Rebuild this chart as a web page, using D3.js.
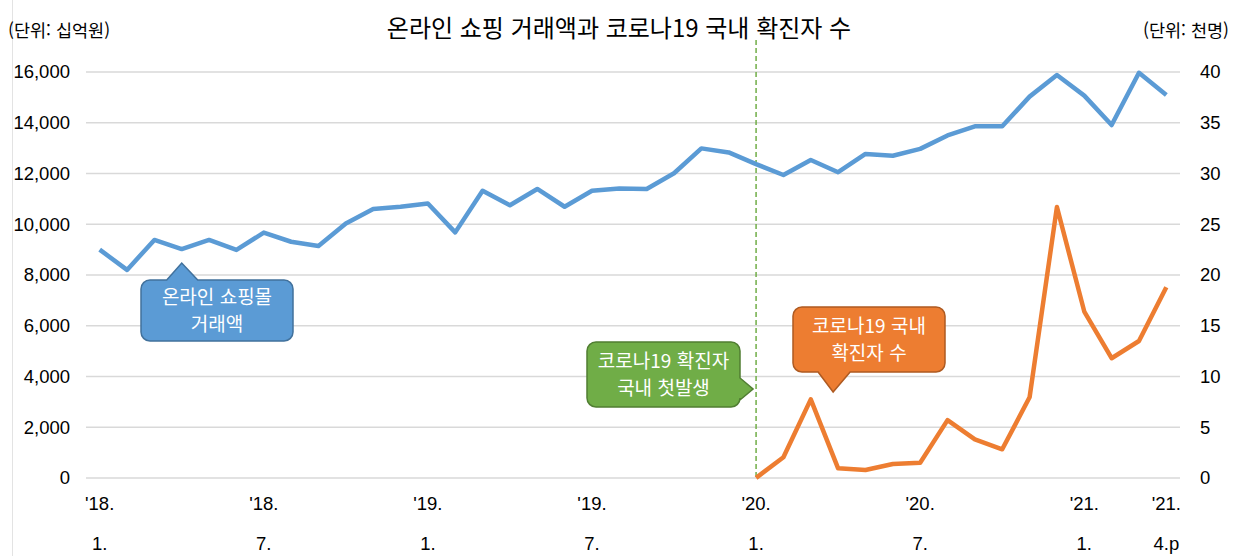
<!DOCTYPE html>
<html lang="ko">
<head>
<meta charset="utf-8">
<title>온라인 쇼핑 거래액과 코로나19 국내 확진자 수</title>
<script src="https://cdn.jsdelivr.net/npm/d3@7"></script>
<style>
  body { margin: 0; background: #fff; }
  svg { display: block; }
  .kr { font-family: "Noto Sans CJK KR", sans-serif; }
  .num { font-family: "Liberation Sans Narrow", "Liberation Sans", sans-serif; }
</style>
</head>
<body>
<script>
// monthly categories, 2018.1 ~ 2021.4
var months = [
  "2018.01","2018.02","2018.03","2018.04","2018.05","2018.06","2018.07","2018.08","2018.09","2018.10","2018.11","2018.12",
  "2019.01","2019.02","2019.03","2019.04","2019.05","2019.06","2019.07","2019.08","2019.09","2019.10","2019.11","2019.12",
  "2020.01","2020.02","2020.03","2020.04","2020.05","2020.06","2020.07","2020.08","2020.09","2020.10","2020.11","2020.12",
  "2021.01","2021.02","2021.03","2021.04"
];

// online shopping amount (십억원)
var shopping = [
  9000, 8200, 9380, 9020, 9380, 8990, 9670, 9310, 9140, 10030, 10600, 10690,
  10820, 9680, 11320, 10750, 11390, 10690, 11320, 11410, 11390, 12010, 12990, 12830,
  12370, 11940, 12530, 12050, 12770, 12700, 12970, 13500, 13860, 13860, 15030, 15880,
  15070, 13910, 15970, 15090
];

// covid-19 confirmed cases (천명), from 2020.1
var covid = [
  null, null, null, null, null, null, null, null, null, null, null, null,
  null, null, null, null, null, null, null, null, null, null, null, null,
  0.01, 2.04, 7.75, 0.95, 0.79, 1.38, 1.51, 5.7, 3.8, 2.83, 7.95, 26.7,
  16.4, 11.8, 13.5, 18.8
];

var leftTicks = [0, 2000, 4000, 6000, 8000, 10000, 12000, 14000, 16000];
var rightTicks = [0, 5, 10, 15, 20, 25, 30, 35, 40];
var xTickMonths = ["2018.01","2018.07","2019.01","2019.07","2020.01","2020.07","2021.01","2021.04"];
var xTickTop = ["'18.","'18.","'19.","'19.","'20.","'20.","'21.","'21."];
var xTickBottom = ["1.","7.","1.","7.","1.","7.","1.","4.p"];

var w = 1243, h = 556;
var plotLeft = 86, plotRight = 1180, plotTop = 72, plotBottom = 478;

var svg = d3.select("body").append("svg")
  .attr("width", w)
  .attr("height", h);

var x = d3.scalePoint()
  .domain(months)
  .range([plotLeft, plotRight])
  .padding(0.5);

var yL = d3.scaleLinear().domain([0, 16000]).range([plotBottom, plotTop]);
var yR = d3.scaleLinear().domain([0, 40]).range([plotBottom, plotTop]);

// faint frame line at left edge
svg.append("line")
  .attr("x1", 12.5).attr("x2", 12.5)
  .attr("y1", 0).attr("y2", h)
  .attr("stroke", "#e3e3e3").attr("stroke-width", 1);

// gridlines
svg.append("g")
  .selectAll("line")
  .data(leftTicks)
  .enter()
  .append("line")
  .attr("x1", plotLeft).attr("x2", plotRight)
  .attr("y1", function(d) { return yL(d); })
  .attr("y2", function(d) { return yL(d); })
  .attr("stroke", "#d9d9d9")
  .attr("stroke-width", 1.6);

// left axis labels
var axL = svg.append("g")
  .attr("transform", "translate(" + (plotLeft - 16) + ",0)")
  .call(d3.axisLeft(yL).tickValues(leftTicks).tickSize(0).tickPadding(0).tickFormat(d3.format(",")));
axL.select(".domain").remove();
axL.selectAll("text")
  .attr("class", "num")
  .attr("font-size", 18.5)
  .attr("fill", "#000");

// right axis labels
var axR = svg.append("g")
  .attr("transform", "translate(" + (plotRight + 20) + ",0)")
  .call(d3.axisRight(yR).tickValues(rightTicks).tickSize(0).tickPadding(0));
axR.select(".domain").remove();
axR.selectAll("text")
  .attr("class", "num")
  .attr("font-size", 18.5)
  .attr("fill", "#000");

// x labels (two lines)
var xl = svg.append("g")
  .selectAll("g")
  .data(xTickMonths)
  .enter()
  .append("g")
  .attr("transform", function(d) { return "translate(" + x(d) + ",0)"; });
xl.append("text")
  .attr("class", "num")
  .attr("y", 510)
  .attr("text-anchor", "middle")
  .attr("font-size", 18.5)
  .text(function(d, i) { return xTickTop[i]; });
xl.append("text")
  .attr("class", "num")
  .attr("y", 550)
  .attr("text-anchor", "middle")
  .attr("font-size", 18.5)
  .text(function(d, i) { return xTickBottom[i]; });

// first domestic case marker
svg.append("line")
  .attr("x1", x("2020.01")).attr("x2", x("2020.01"))
  .attr("y1", 40).attr("y2", plotBottom)
  .attr("stroke", "#70ad47")
  .attr("stroke-width", 1.5)
  .attr("stroke-dasharray", "5,3");

// lines
var lineL = d3.line()
  .x(function(d, i) { return x(months[i]); })
  .y(function(d) { return yL(d); });

var lineR = d3.line()
  .defined(function(d) { return d != null; })
  .x(function(d, i) { return x(months[i]); })
  .y(function(d) { return yR(d); });

svg.append("path")
  .datum(shopping)
  .attr("d", lineL)
  .attr("fill", "none")
  .attr("stroke", "#5b9bd5")
  .attr("stroke-width", 4.5)
  .attr("stroke-linejoin", "round");

svg.append("path")
  .datum(covid)
  .attr("d", lineR)
  .attr("fill", "none")
  .attr("stroke", "#ed7d31")
  .attr("stroke-width", 4.5)
  .attr("stroke-linejoin", "round");

// titles
svg.append("text")
  .attr("class", "kr")
  .attr("x", 619).attr("y", 37)
  .attr("text-anchor", "middle")
  .attr("font-size", 24)
  .text("온라인 쇼핑 거래액과 코로나19 국내 확진자 수");

svg.append("text")
  .attr("class", "kr")
  .attr("x", 8).attr("y", 37)
  .attr("font-size", 17.5)
  .text("(단위: 십억원)");

svg.append("text")
  .attr("class", "kr")
  .attr("x", 1229).attr("y", 37)
  .attr("text-anchor", "end")
  .attr("font-size", 17.5)
  .text("(단위: 천명)");

// callout: rounded box with a tail
function callout(bx, by, bw, bh, tail, fill, stroke, lines) {
  var r = 9;
  var p = d3.path();
  p.moveTo(bx + r, by);
  if (tail.side === "top") {
    p.lineTo(tail.a, by); p.lineTo(tail.px, tail.py); p.lineTo(tail.b, by);
  }
  p.lineTo(bx + bw - r, by);
  p.arcTo(bx + bw, by, bx + bw, by + r, r);
  if (tail.side === "right") {
    p.lineTo(bx + bw, tail.a); p.lineTo(tail.px, tail.py); p.lineTo(bx + bw, tail.b);
  }
  p.lineTo(bx + bw, by + bh - r);
  p.arcTo(bx + bw, by + bh, bx + bw - r, by + bh, r);
  if (tail.side === "bottom") {
    p.lineTo(tail.b, by + bh); p.lineTo(tail.px, tail.py); p.lineTo(tail.a, by + bh);
  }
  p.lineTo(bx + r, by + bh);
  p.arcTo(bx, by + bh, bx, by + bh - r, r);
  p.lineTo(bx, by + r);
  p.arcTo(bx, by, bx + r, by, r);
  p.closePath();

  svg.append("path")
    .attr("d", p.toString())
    .attr("fill", fill)
    .attr("stroke", stroke)
    .attr("stroke-width", 1.5);

  svg.selectAll(null)
    .data(lines)
    .enter()
    .append("text")
    .attr("class", "kr")
    .attr("x", bx + bw / 2)
    .attr("y", function(d, i) { return by + bh / 2 + (i - (lines.length - 1) / 2) * 27.5 + 7; })
    .attr("text-anchor", "middle")
    .attr("font-size", 19)
    .attr("fill", "#fff")
    .text(function(d) { return d; });
}

var tx = x("2018.04");
callout(141, 280, 152, 61,
  { side: "top", a: tx - 15, b: tx + 16, px: tx, py: 263 },
  "#5b9bd5", "#41719c", ["온라인 쇼핑몰", "거래액"]);

var gx = x("2020.01");
callout(587, 342, 153, 65,
  { side: "right", a: 378, b: 400, px: gx - 3, py: 389 },
  "#70ad47", "#507e32", ["코로나19 확진자", "국내 첫발생"]);

var ox = x("2020.04") - 5;
callout(793, 307, 152, 65,
  { side: "bottom", a: ox - 15, b: ox + 17, px: ox, py: 392 },
  "#ed7d31", "#ae5a21", ["코로나19 국내", "확진자 수"]);
</script>
</body>
</html>
